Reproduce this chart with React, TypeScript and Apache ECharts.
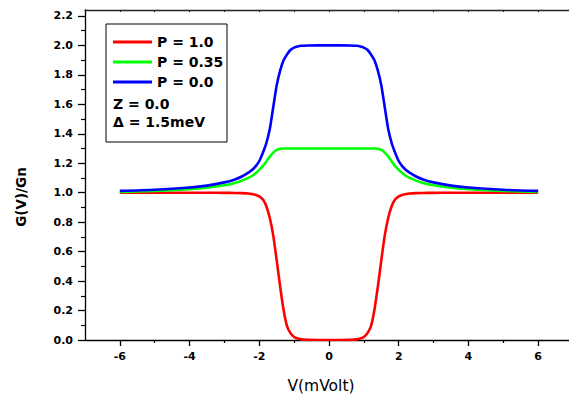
import React, { useEffect, useRef } from "react";
import * as echarts from "echarts";

const voltages = [
  -6, -5, -4, -3.5, -3, -2.7, -2.5, -2.3, -2.2, -2.1, -2.0, -1.9, -1.8, -1.7, -1.6, -1.5, -1.4, -1.3, -1.2, -1.1, -1.0,
  -0.9, -0.8, -0.6, -0.3, 0, 0.3, 0.6, 0.8, 0.9, 1.0, 1.1, 1.2, 1.3, 1.4, 1.5, 1.6, 1.7, 1.8, 1.9, 2.0, 2.1, 2.2, 2.3,
  2.5, 2.7, 3, 3.5, 4, 5, 6,
];

const gP10 = [
  1, 1, 1, 1, 0.999, 0.998, 0.997, 0.994, 0.99, 0.985, 0.975, 0.955, 0.91, 0.83, 0.71, 0.54, 0.36, 0.2, 0.09, 0.045, 0.02,
  0.01, 0.004, 0.001, 0, 0, 0, 0.001, 0.004, 0.01, 0.02, 0.045, 0.09, 0.2, 0.36, 0.54, 0.71, 0.83, 0.91, 0.955, 0.975,
  0.985, 0.99, 0.994, 0.997, 0.998, 0.999, 1, 1, 1, 1,
];

const gP035 = [
  1.005, 1.012, 1.024, 1.034, 1.05, 1.066, 1.082, 1.102, 1.115, 1.133, 1.155, 1.18, 1.212, 1.245, 1.272, 1.29, 1.298,
  1.3, 1.3, 1.3, 1.3, 1.3, 1.3, 1.3, 1.3, 1.3, 1.3, 1.3, 1.3, 1.3, 1.3, 1.3, 1.3, 1.3, 1.298, 1.29, 1.272, 1.245, 1.212,
  1.18, 1.155, 1.133, 1.115, 1.102, 1.082, 1.066, 1.05, 1.034, 1.024, 1.012, 1.005,
];

const gP00 = [
  1.012, 1.02, 1.035, 1.048, 1.07, 1.09, 1.11, 1.138, 1.155, 1.18, 1.215, 1.27, 1.335, 1.43, 1.58, 1.73, 1.83, 1.9, 1.94,
  1.97, 1.985, 1.993, 1.997, 1.999, 2.0, 2.0, 2.0, 1.999, 1.997, 1.993, 1.985, 1.97, 1.94, 1.9, 1.83, 1.73, 1.58, 1.43,
  1.335, 1.27, 1.215, 1.18, 1.155, 1.138, 1.11, 1.09, 1.07, 1.048, 1.035, 1.02, 1.012,
];

const seriesNames = ["P = 1.0", "P = 0.35", "P = 0.0"];
const seriesColors = ["#ff0000", "#00ff00", "#0000ff"];
const xTickLabels = [-6, -4, -2, 0, 2, 4, 6];
const xMinorTicks = [-5, -3, -1, 1, 3, 5];
const xTopTicks = [-6, -5, -4, -3, -2, -1, 0, 1, 2, 3, 4, 5, 6];
const yTickLabels = [0, 0.2, 0.4, 0.6, 0.8, 1.0, 1.2, 1.4, 1.6, 1.8, 2.0, 2.2];
const yMinorTicks = [0.1, 0.3, 0.5, 0.7, 0.9, 1.1, 1.3, 1.5, 1.7, 1.9, 2.1];
const noteLines = ["Z = 0.0", "Δ = 1.5meV"];

const BOLD = "DejaVu Sans";

export default function App() {
  const ref = useRef<HTMLDivElement>(null);
  useEffect(() => {
    if (!ref.current) return;
    const chart = echarts.init(ref.current, undefined, { renderer: "svg" });
    const gridBox = { left: 85, top: 10, right: 7, bottom: 57 };
    const allData = [gP10, gP035, gP00];
    chart.setOption({
      animation: false,
      backgroundColor: "#ffffff",
      grid: [
        { ...gridBox, containLabel: false },
        { ...gridBox, containLabel: false },
      ],
      xAxis: [
        {
          type: "value",
          gridIndex: 0,
          position: "bottom",
          min: -7,
          max: 7,
          axisLine: { show: true, onZero: false, lineStyle: { color: "#000", width: 1.3 } },
          axisTick: { show: true, customValues: xTickLabels, length: 6, lineStyle: { color: "#000", width: 1.3 } },
          axisLabel: {
            show: true,
            customValues: xTickLabels,
            margin: 11,
            color: "#000",
            fontFamily: BOLD,
            fontWeight: "bold",
            fontSize: 11,
            formatter: (v: number) => String(v),
          },
          splitLine: { show: false },
        },
        {
          type: "value",
          gridIndex: 0,
          position: "top",
          min: -7,
          max: 7,
          axisLine: { show: true, onZero: false, lineStyle: { color: "#222", width: 1.3 } },
          axisTick: { show: true, inside: true, customValues: xTopTicks, length: 2, lineStyle: { color: "#222", width: 1 } },
          axisLabel: { show: false },
          splitLine: { show: false },
        },
        {
          type: "value",
          gridIndex: 1,
          position: "bottom",
          min: -7,
          max: 7,
          axisLine: { show: false, onZero: false },
          axisTick: { show: true, customValues: xMinorTicks, length: 3, lineStyle: { color: "#000", width: 1.2 } },
          axisLabel: { show: false },
          splitLine: { show: false },
        },
      ],
      yAxis: [
        {
          type: "value",
          gridIndex: 0,
          min: 0,
          max: 2.24,
          axisLine: { show: true, onZero: false, lineStyle: { color: "#000", width: 1.3 } },
          axisTick: { show: true, customValues: yTickLabels, length: 7, lineStyle: { color: "#000", width: 1.3 } },
          axisLabel: {
            show: true,
            customValues: yTickLabels,
            margin: 12,
            color: "#000",
            fontFamily: BOLD,
            fontWeight: "bold",
            fontSize: 11,
            formatter: (v: number) => v.toFixed(1),
          },
          splitLine: { show: false },
        },
        {
          type: "value",
          gridIndex: 1,
          min: 0,
          max: 2.24,
          axisLine: { show: false, onZero: false },
          axisTick: { show: true, customValues: yMinorTicks, length: 4, lineStyle: { color: "#000", width: 1.2 } },
          axisLabel: { show: false },
          splitLine: { show: false },
        },
      ],
      legend: {
        show: true,
        orient: "vertical",
        left: 113,
        top: 32,
        itemWidth: 39,
        itemHeight: 3,
        itemGap: 0,
        icon: "rect",
        data: seriesNames,
        textStyle: {
          color: "#000",
          fontFamily: BOLD,
          fontWeight: "bold",
          fontSize: 14,
          lineHeight: 20,
        },
        padding: 0,
        z: 10,
      },
      graphic: [
        {
          type: "rect",
          shape: { x: 106, y: 24, width: 121, height: 118 },
          style: { fill: "#fff", stroke: "#000", lineWidth: 1 },
          z: 5,
        },
        ...noteLines.map((t, i) => ({
          type: "text",
          x: 113,
          y: 103.5 + i * 18.5,
          style: {
            text: t,
            fill: "#000",
            font: `bold 14px "${BOLD}"`,
            textVerticalAlign: "middle",
            verticalAlign: "middle",
          },
          z: 11,
        })),
        {
          type: "text",
          x: 321,
          y: 386,
          style: {
            text: "V(mVolt)",
            fill: "#000",
            font: `15.5px "${BOLD}"`,
            align: "center",
            verticalAlign: "middle",
          },
        },
        {
          type: "text",
          x: 21,
          y: 197,
          rotation: Math.PI / 2,
          style: {
            text: "G(V)/Gn",
            fill: "#000",
            font: `bold 13.5px "${BOLD}"`,
            align: "center",
            verticalAlign: "middle",
          },
        },
      ],
      series: seriesNames.map((name, k) => ({
        name,
        type: "line",
        xAxisIndex: 0,
        yAxisIndex: 0,
        data: voltages.map((v, i) => [v, allData[k][i]]),
        symbol: "none",
        showSymbol: false,
        smooth: 0.25,
        color: seriesColors[k],
        lineStyle: { color: seriesColors[k], width: 2.6 },
        clip: true,
      })),
    });
    return () => chart.dispose();
  }, []);
  return (
    <div
      ref={ref}
      style={{ position: "fixed", left: 0, top: 0, width: 580, height: 397, background: "#fff" }}
    />
  );
}
